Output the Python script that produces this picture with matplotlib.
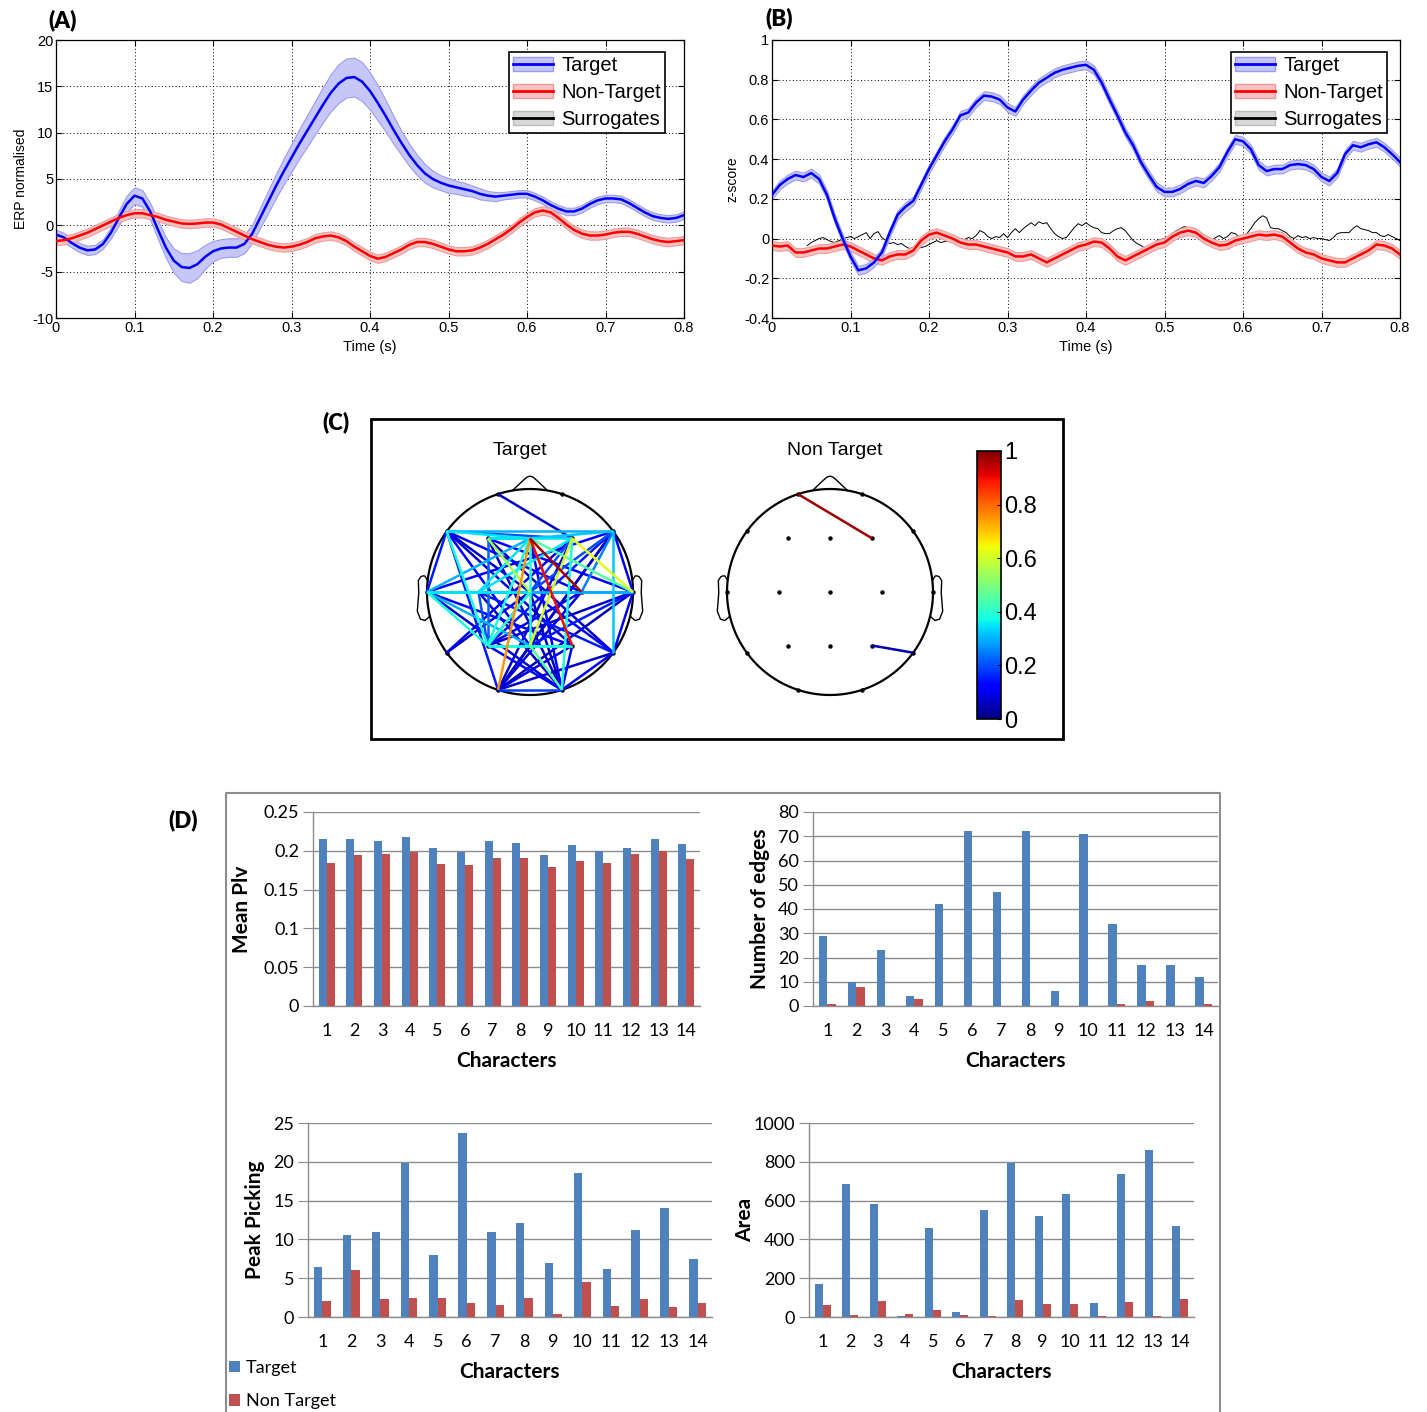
import numpy as np
import matplotlib
matplotlib.use("Agg")
import matplotlib.pyplot as plt
from matplotlib.patches import Patch, Rectangle
from matplotlib.lines import Line2D
from matplotlib.collections import LineCollection
from matplotlib.cm import ScalarMappable
from matplotlib.colors import Normalize

# ---------------- (A) normalised ERP, 0-0.8 s in 10 ms steps ----------------
erp_target = [-1.0, -1.3, -1.9, -2.4, -2.7, -2.6, -2.0, -0.8, 0.8, 2.3,
              3.2, 2.9, 1.5, -0.5, -2.4, -3.8, -4.5, -4.6, -4.2, -3.4,
              -2.8, -2.5, -2.4, -2.4, -2.0, -0.9, 0.8, 2.5, 4.2, 5.8,
              7.3, 8.8, 10.2, 11.6, 13.0, 14.3, 15.3, 15.9, 16.0, 15.5,
              14.5, 13.2, 11.8, 10.3, 8.9, 7.6, 6.5, 5.6, 5.0, 4.6,
              4.3, 4.1, 3.9, 3.7, 3.4, 3.2, 3.1, 3.2, 3.3, 3.4,
              3.4, 3.1, 2.7, 2.2, 1.8, 1.5, 1.5, 1.8, 2.3, 2.7,
              2.9, 2.9, 2.8, 2.4, 1.9, 1.4, 1.0, 0.8, 0.7, 0.8,
              1.1]
erp_target_sem = [0.5, 0.5, 0.5, 0.5, 0.5, 0.5, 0.5, 0.6, 0.8, 0.9,
                  0.9, 0.9, 0.9, 1.0, 1.1, 1.3, 1.5, 1.6, 1.5, 1.3,
                  1.1, 1.0, 1.0, 1.0, 1.0, 1.0, 1.1, 1.2, 1.3, 1.4,
                  1.5, 1.6, 1.7, 1.8, 1.9, 2.0, 2.1, 2.1, 2.1, 2.1,
                  2.0, 1.9, 1.7, 1.5, 1.3, 1.2, 1.1, 1.0, 0.9, 0.8,
                  0.8, 0.7, 0.7, 0.6, 0.6, 0.5, 0.5, 0.4, 0.4, 0.4,
                  0.4, 0.4, 0.4, 0.4, 0.4, 0.4, 0.4, 0.4, 0.4, 0.4,
                  0.4, 0.4, 0.4, 0.4, 0.4, 0.4, 0.4, 0.4, 0.4, 0.4,
                  0.4]
erp_nontarget = [-1.7, -1.6, -1.4, -1.1, -0.8, -0.4, 0.0, 0.4, 0.8, 1.1,
                 1.3, 1.3, 1.1, 0.9, 0.6, 0.4, 0.2, 0.15, 0.2, 0.3,
                 0.3, 0.1, -0.3, -0.7, -1.1, -1.5, -1.8, -2.1, -2.3, -2.4,
                 -2.3, -2.1, -1.8, -1.4, -1.2, -1.1, -1.3, -1.7, -2.3, -2.8,
                 -3.3, -3.6, -3.4, -3.0, -2.6, -2.1, -1.8, -1.8, -2.0, -2.3,
                 -2.6, -2.8, -2.8, -2.7, -2.4, -2.0, -1.5, -1.0, -0.4, 0.3,
                 0.9, 1.4, 1.6, 1.4, 0.8, 0.1, -0.5, -0.9, -1.1, -1.1,
                 -1.0, -0.8, -0.7, -0.7, -0.9, -1.2, -1.5, -1.7, -1.8, -1.7,
                 -1.6]
erp_nontarget_sem = 0.45

# ---------------- (B) PLV z-score ----------------
z_target = [0.22, 0.27, 0.30, 0.32, 0.31, 0.33, 0.30, 0.22, 0.10, 0.0,
            -0.09, -0.16, -0.15, -0.12, -0.07, 0.03, 0.12, 0.16, 0.19, 0.27,
            0.35, 0.42, 0.49, 0.55, 0.62, 0.635, 0.685, 0.72, 0.715, 0.70,
            0.66, 0.64, 0.70, 0.745, 0.785, 0.81, 0.835, 0.85, 0.86, 0.87,
            0.875, 0.85, 0.785, 0.70, 0.62, 0.535, 0.47, 0.385, 0.32, 0.26,
            0.235, 0.235, 0.25, 0.275, 0.29, 0.28, 0.315, 0.36, 0.435, 0.50,
            0.49, 0.45, 0.37, 0.34, 0.35, 0.35, 0.37, 0.375, 0.37, 0.35,
            0.31, 0.29, 0.33, 0.425, 0.47, 0.46, 0.475, 0.485, 0.46, 0.425,
            0.385]
z_nontarget = [-0.035, -0.04, -0.035, -0.07, -0.07, -0.06, -0.05, -0.05, -0.04, -0.03,
               -0.04, -0.06, -0.08, -0.10, -0.11, -0.09, -0.08, -0.08, -0.06, -0.01,
               0.02, 0.03, 0.015, 0.0, -0.02, -0.03, -0.03, -0.04, -0.05, -0.06,
               -0.07, -0.09, -0.09, -0.08, -0.10, -0.12, -0.10, -0.08, -0.06, -0.04,
               -0.03, -0.015, -0.02, -0.05, -0.09, -0.11, -0.09, -0.07, -0.05, -0.03,
               -0.02, 0.01, 0.03, 0.04, 0.03, 0.0, -0.02, -0.035, -0.03, -0.01,
               0.0, 0.01, 0.02, 0.015, 0.02, 0.01, -0.02, -0.05, -0.07, -0.08,
               -0.10, -0.11, -0.12, -0.12, -0.10, -0.08, -0.06, -0.03, -0.035, -0.05,
               -0.08]
z_sem = 0.022
# surrogate PLV, 5 ms steps starting at 45 ms
z_surrogate = [-0.035, -0.02, -0.01, 0.0, 0.005, -0.005, -0.015, -0.02, -0.01, -0.005,
               0.005, 0.01, 0.0, 0.01, 0.02, 0.03, 0.0, 0.025, 0.035, 0.005,
               -0.01, -0.025, -0.02, -0.03, -0.025, -0.04, -0.05, -0.045, -0.05, -0.045,
               -0.04, -0.03, -0.02, -0.01, -0.02, -0.015, -0.01, -0.02, -0.01, 0.0,
               -0.005, 0.005, 0.0, 0.015, 0.04, 0.03, 0.01, 0.0, 0.01, 0.005,
               0.025, 0.005, 0.03, 0.05, 0.03, 0.05, 0.065, 0.08, 0.065, 0.085,
               0.075, 0.08, 0.05, 0.025, 0.01, 0.0, 0.005, 0.03, 0.055, 0.075,
               0.065, 0.08, 0.065, 0.055, 0.05, 0.03, 0.025, 0.025, 0.04, 0.05,
               0.055, 0.04, 0.015, -0.01, -0.025, -0.035, -0.05, -0.06, -0.04, -0.01,
               -0.005, 0.0, 0.01, 0.025, 0.04, 0.05, 0.06, 0.055, 0.045, 0.03,
               0.005, -0.015, -0.02, -0.01, 0.005, 0.015, 0.0, 0.01, 0.03, 0.025,
               0.01, 0.01, 0.025, 0.05, 0.08, 0.1, 0.115, 0.105, 0.055, 0.05,
               0.05, 0.04, 0.03, 0.01, 0.0, 0.015, 0.005, 0.01, 0.0, 0.005,
               0.0, 0.0, -0.005, -0.01, 0.005, 0.025, 0.03, 0.03, 0.03, 0.05,
               0.065, 0.05, 0.045, 0.04, 0.03, 0.03, 0.015, 0.01, 0.02, 0.01,
               0.0, -0.01]
surrogate_start = 0.045
time_step = 0.01
surrogate_step = 0.005
time_ticks = [0, 0.1, 0.2, 0.3, 0.4, 0.5, 0.6, 0.7, 0.8]
time_ticklabels = ['0', '0.1', '0.2', '0.3', '0.4', '0.5', '0.6', '0.7', '0.8']
erp_ticks = [-10, -5, 0, 5, 10, 15, 20]
z_ticks = [-0.4, -0.2, 0, 0.2, 0.4, 0.6, 0.8, 1]
z_ticklabels = ['-0.4', '-0.2', '0', '0.2', '0.4', '0.6', '0.8', '1']
curve_names = ['Target', 'Non-Target', 'Surrogates']

# ---------------- (C) PLV networks on the 10-20 montage ----------------
electrodes = {
    'Fp1': (-0.31, 0.95), 'Fp2': (0.31, 0.95),
    'F7': (-0.81, 0.59), 'F3': (-0.41, 0.52), 'Fz': (0.0, 0.52), 'F4': (0.41, 0.52), 'F8': (0.81, 0.59),
    'T3': (-1.0, 0.0), 'C3': (-0.5, 0.0), 'Cz': (0.0, 0.0), 'C4': (0.5, 0.0), 'T4': (1.0, 0.0),
    'T5': (-0.81, -0.59), 'P3': (-0.41, -0.52), 'Pz': (0.0, -0.52), 'P4': (0.41, -0.52), 'T6': (0.81, -0.59),
    'O1': (-0.31, -0.95), 'O2': (0.31, -0.95),
}
target_edges = [
    ('Fp1', 'F4', 0.06), ('F7', 'F8', 0.30), ('F7', 'Fz', 0.35), ('F7', 'F4', 0.20),
    ('F7', 'T3', 0.15), ('F7', 'Cz', 0.06), ('F7', 'C4', 0.10), ('F7', 'P3', 0.38),
    ('F7', 'Pz', 0.12), ('F7', 'P4', 0.07), ('F7', 'O1', 0.15), ('F3', 'F4', 0.35),
    ('F3', 'Fz', 0.30), ('F3', 'Cz', 0.55), ('F3', 'P3', 0.22), ('F3', 'O2', 0.06),
    ('F3', 'T4', 0.12), ('F3', 'T6', 0.06), ('Fz', 'C4', 0.97), ('Fz', 'P4', 0.90),
    ('Fz', 'O1', 0.75), ('Fz', 'Pz', 0.40), ('Fz', 'P3', 0.38), ('Fz', 'T3', 0.30),
    ('Fz', 'T4', 0.45), ('Fz', 'C3', 0.35), ('Fz', 'O2', 0.12), ('Fz', 'F8', 0.32),
    ('F4', 'Pz', 0.60), ('F4', 'T4', 0.62), ('F4', 'C3', 0.35), ('F4', 'P3', 0.20),
    ('F4', 'O1', 0.07), ('F4', 'O2', 0.38), ('F4', 'T5', 0.12), ('F8', 'T4', 0.10),
    ('F8', 'C4', 0.25), ('F8', 'Cz', 0.20), ('F8', 'T6', 0.32), ('F8', 'P3', 0.15),
    ('F8', 'Pz', 0.06), ('F8', 'T3', 0.12), ('F8', 'O1', 0.05), ('T3', 'T4', 0.25),
    ('T3', 'C3', 0.35), ('T3', 'P3', 0.38), ('T3', 'Pz', 0.30), ('T3', 'P4', 0.12),
    ('T3', 'Cz', 0.35), ('T3', 'O2', 0.07), ('C3', 'Cz', 0.30), ('C3', 'P3', 0.20),
    ('C3', 'O2', 0.06), ('C3', 'T6', 0.15), ('Cz', 'P3', 0.40), ('Cz', 'O2', 0.05),
    ('Cz', 'T6', 0.12), ('Cz', 'T4', 0.30), ('C4', 'O1', 0.08), ('C4', 'P3', 0.10),
    ('T4', 'Pz', 0.15), ('T4', 'O1', 0.05), ('T4', 'T6', 0.10), ('T4', 'P3', 0.07),
    ('P3', 'Pz', 0.35), ('P3', 'P4', 0.38), ('P3', 'O2', 0.12), ('Pz', 'O1', 0.06),
    ('Pz', 'O2', 0.45), ('P4', 'O1', 0.08), ('T6', 'O1', 0.06), ('T6', 'O2', 0.12),
    ('O1', 'O2', 0.18), ('T5', 'Cz', 0.06), ('P4', 'O2', 0.10), ('Pz', 'P4', 0.35),
]
nontarget_edges = [('Fp1', 'F4', 0.97), ('P4', 'T6', 0.05)]
colorbar_ticks = [0, 0.2, 0.4, 0.6, 0.8, 1]
colorbar_ticklabels = ['0', '0.2', '0.4', '0.6', '0.8', '1']

# ---------------- (D) per-character measures ----------------
characters = [str(i) for i in range(1, 15)]
plv_target = [0.215, 0.215, 0.212, 0.218, 0.203, 0.198, 0.212, 0.210, 0.194, 0.208, 0.200, 0.204, 0.215, 0.209]
plv_nontarget = [0.184, 0.194, 0.196, 0.198, 0.183, 0.182, 0.191, 0.191, 0.179, 0.187, 0.184, 0.196, 0.200, 0.189]
edges_target = [29, 10, 23, 4, 42, 72, 47, 72, 6, 71, 34, 17, 17, 12]
edges_nontarget = [1, 8, 0, 3, 0, 0, 0, 0, 0, 0, 1, 2, 0, 1]
peak_target = [6.4, 10.6, 11.0, 19.8, 8.0, 23.7, 11.0, 12.1, 7.0, 18.5, 6.2, 11.2, 14.1, 7.5]
peak_nontarget = [2.0, 6.1, 2.3, 2.5, 2.5, 1.8, 1.6, 2.4, 0.4, 4.5, 1.4, 2.3, 1.3, 1.8]
area_target = [170, 683, 583, 5, 460, 26, 549, 792, 520, 633, 70, 738, 859, 470]
area_nontarget = [60, 12, 81, 17, 36, 12, 5, 86, 65, 65, 5, 76, 5, 91]
plv_ticks = [0, 0.05, 0.1, 0.15, 0.2, 0.25]
plv_ticklabels = ['0', '0.05', '0.1', '0.15', '0.2', '0.25']
edges_ticks = [0, 10, 20, 30, 40, 50, 60, 70, 80]
peak_ticks = [0, 5, 10, 15, 20, 25]
area_ticks = [0, 200, 400, 600, 800, 1000]

# ---------------- styling ----------------
ARIAL = ['Liberation Sans', 'DejaVu Sans']
NARROW = ['Liberation Sans Narrow', 'Liberation Sans', 'DejaVu Sans']
CALIBRI = ['Lato', 'DejaVu Sans']
BLUE_LINE, BLUE_BAND, BLUE_EDGE = '#0000ff', '#c6c6f8', '#9c9cee'
RED_LINE, RED_BAND, RED_EDGE = '#ff0000', '#f9c2c2', '#ef9a9a'
XL_BLUE, XL_RED, XL_GRID = '#4f81bd', '#c0504d', '#8c8c8c'

W, H = 1427, 1412
fig = plt.figure(figsize=(W / 100, H / 100), dpi=100)
fig.patch.set_facecolor('white')


def ax_px(left, top, right, bottom):
    return fig.add_axes([left / W, 1 - bottom / H, (right - left) / W, (bottom - top) / H])


def panel_label(x, y, s):
    fig.text(x / W, 1 - y / H, s, ha='center', va='center', fontsize=16,
             fontweight='heavy', family=CALIBRI)


def matlab_style(ax, yticks, yticklabels, ylim, ylabel):
    ax.set_xlim(0, 0.8)
    ax.set_ylim(*ylim)
    ax.set_xticks(time_ticks)
    ax.set_xticklabels(time_ticklabels)
    ax.set_yticks(yticks)
    ax.set_yticklabels(yticklabels)
    ax.set_axisbelow(True)
    ax.grid(True, color='black', linestyle=(0, (1, 2.5)), linewidth=0.7)
    ax.tick_params(direction='in', top=True, right=True, length=4, width=0.8,
                   labelsize=10.5, pad=2)
    for lab in ax.get_xticklabels() + ax.get_yticklabels():
        lab.set_family(ARIAL)
    for sp in ax.spines.values():
        sp.set_linewidth(0.9)
    ax.set_xlabel('Time (s)', fontsize=10.5, family=ARIAL, labelpad=4)
    ax.set_ylabel(ylabel, fontsize=10, family=ARIAL, labelpad=3)


def curve_legend(ax, anchor):
    handles = [
        (Patch(facecolor=BLUE_BAND, edgecolor=BLUE_EDGE), Line2D([], [], color=BLUE_LINE, lw=2)),
        (Patch(facecolor=RED_BAND, edgecolor=RED_EDGE), Line2D([], [], color=RED_LINE, lw=2)),
        (Patch(facecolor='#d8d8d8', edgecolor='#bcbcbc'), Line2D([], [], color='black', lw=2)),
    ]
    leg = ax.legend(handles, curve_names, loc='upper right', bbox_to_anchor=anchor,
                    prop={'family': NARROW, 'size': 14.5}, fancybox=False, framealpha=1,
                    borderpad=0.2, labelspacing=0.4, handlelength=2.0, handletextpad=0.4,
                    borderaxespad=0)
    leg.get_frame().set_edgecolor('black')
    leg.get_frame().set_linewidth(1.2)


def band(ax, t, mean, sem, face, edge, line):
    mean = np.asarray(mean, dtype=float)
    sem = np.asarray(sem, dtype=float)
    ax.fill_between(t, mean - sem, mean + sem, facecolor=face, edgecolor=edge, linewidth=0.8, zorder=2)
    ax.plot(t, mean, color=line, lw=1.8, zorder=3)


# ---------------- (A) ----------------
panel_label(63, 20, '(A)')
axA = ax_px(56, 40, 684, 318)
tA = np.arange(len(erp_target)) * time_step
band(axA, tA, erp_target, erp_target_sem, BLUE_BAND, BLUE_EDGE, BLUE_LINE)
band(axA, tA, erp_nontarget, erp_nontarget_sem, RED_BAND, RED_EDGE, RED_LINE)
matlab_style(axA, erp_ticks, [str(v) for v in erp_ticks], (-10, 20), 'ERP normalised')
curve_legend(axA, ((665 - 56) / 628, (318 - 52) / 278))

# ---------------- (B) ----------------
panel_label(779, 18, '(B)')
axB = ax_px(772, 40, 1400, 318)
tB = np.arange(len(z_target)) * time_step
tS = surrogate_start + np.arange(len(z_surrogate)) * surrogate_step
axB.plot(tS, z_surrogate, color='black', lw=0.7, zorder=2)
band(axB, tB, z_nontarget, z_sem, RED_BAND, RED_EDGE, RED_LINE)
band(axB, tB, z_target, z_sem, BLUE_BAND, BLUE_EDGE, BLUE_LINE)
matlab_style(axB, z_ticks, z_ticklabels, (-0.4, 1), 'z-score')
curve_legend(axB, ((1387 - 772) / 628, (318 - 52) / 278))

# ---------------- (C) ----------------
panel_label(336, 422, '(C)')
fig.add_artist(Rectangle((371 / W, 1 - 739 / H), (1063 - 371) / W, (739 - 419) / H,
                         transform=fig.transFigure, fill=False, edgecolor='black', lw=2))

nose_x = [-0.17, -0.07, -0.03, 0.0, 0.03, 0.07, 0.17]
nose_y = [0.985, 1.08, 1.115, 1.125, 1.115, 1.08, 0.985]
ear_x = np.array([0.994, 1.02, 1.036, 1.06, 1.084, 1.08, 1.094, 1.064, 1.02, 0.978])
ear_y = np.array([0.111, 0.155, 0.157, 0.149, 0.111, -0.011, -0.186, -0.263, -0.277, -0.240])
jet_norm = Normalize(0, 1)


def draw_head(cx, cy, edges, title, title_x):
    half, r = 135, 103
    ax = ax_px(cx - half, cy - half, cx + half, cy + half)
    lim = half / r
    ax.set_xlim(-lim, lim)
    ax.set_ylim(-lim, lim)
    ax.axis('off')
    th = np.linspace(0, 2 * np.pi, 400)
    ax.plot(np.cos(th), np.sin(th), color='black', lw=1.6)
    ax.plot(nose_x, nose_y, color='black', lw=1.0)
    ax.plot(ear_x, ear_y, color='black', lw=1.0)
    ax.plot(-ear_x, ear_y, color='black', lw=1.0)
    ordered = sorted(edges, key=lambda e: e[2])
    segs = [[electrodes[a], electrodes[b]] for a, b, _ in ordered]
    vals = [v for _, _, v in ordered]
    lc = LineCollection(segs, cmap='jet', norm=jet_norm, linewidths=1.8, zorder=3)
    lc.set_array(np.array(vals))
    ax.add_collection(lc)
    xs = [p[0] for p in electrodes.values()]
    ys = [p[1] for p in electrodes.values()]
    ax.plot(xs, ys, 'o', color='black', markersize=2.2, zorder=2)
    fig.text(title_x / W, 1 - 451 / H, title, ha='center', va='center', fontsize=14, family=ARIAL)


draw_head(530, 592, target_edges, 'Target', 520)
draw_head(830, 592, nontarget_edges, 'Non Target', 835)

cax = ax_px(977, 451, 1001, 719)
cb = fig.colorbar(ScalarMappable(norm=jet_norm, cmap='jet'), cax=cax, ticks=colorbar_ticks)
cb.set_ticklabels(colorbar_ticklabels)
cb.ax.tick_params(labelsize=17, length=3, direction='in', pad=2)
for lab in cb.ax.get_yticklabels():
    lab.set_family(ARIAL)
cb.outline.set_linewidth(1.2)

# ---------------- (D) ----------------
panel_label(183, 820, '(D)')
dx0, dx1, dy0 = 226 / W, 1220 / W, 1 - 793 / H
fig.add_artist(Line2D([dx0, dx0, dx1, dx1], [0, dy0, dy0, 0], transform=fig.transFigure,
                      color=XL_GRID, lw=1.5))


def bar_panel(box, tgt, non, ticks, ticklabels, ylabel, ylab_x):
    ax = ax_px(*box)
    x = np.arange(1, len(characters) + 1)
    w = 0.29
    ax.bar(x - w / 2, tgt, w, color=XL_BLUE, zorder=3)
    ax.bar(x + w / 2, non, w, color=XL_RED, zorder=3)
    ax.set_xlim(0.5, len(characters) + 0.5)
    ax.set_ylim(ticks[0], ticks[-1])
    ax.set_yticks(ticks)
    ax.set_yticklabels(ticklabels)
    ax.set_xticks(x)
    ax.set_xticklabels(characters)
    ax.yaxis.grid(True, color=XL_GRID, lw=1.0, zorder=0)
    ax.set_axisbelow(True)
    for s in ('top', 'right'):
        ax.spines[s].set_visible(False)
    for s in ('left', 'bottom'):
        ax.spines[s].set_color(XL_GRID)
        ax.spines[s].set_linewidth(1.0)
    ax.tick_params(axis='y', length=7, color=XL_GRID, direction='out', labelsize=13, pad=3)
    ax.tick_params(axis='x', length=0, labelsize=13, pad=12)
    for lab in ax.get_xticklabels() + ax.get_yticklabels():
        lab.set_family(CALIBRI)
    ax.set_xlabel('Characters', fontsize=15, fontweight='bold', family=CALIBRI)
    ax.xaxis.set_label_coords(0.5, -0.232)
    ax.set_ylabel(ylabel, fontsize=15, fontweight='bold', family=CALIBRI)
    ax.yaxis.set_label_coords(ylab_x, 0.5)
    return ax


bar_panel((313, 812, 700, 1006), plv_target, plv_nontarget, plv_ticks, plv_ticklabels,
          'Mean Plv', (252 - 313) / 387)
bar_panel((813, 812, 1218, 1006), edges_target, edges_nontarget, edges_ticks,
          [str(v) for v in edges_ticks], 'Number of edges', (770 - 813) / 405)
bar_panel((308, 1123, 712, 1317), peak_target, peak_nontarget, peak_ticks,
          [str(v) for v in peak_ticks], 'Peak Picking', (265 - 308) / 404)
bar_panel((809, 1123, 1194, 1317), area_target, area_nontarget, area_ticks,
          [str(v) for v in area_ticks], 'Area', (755 - 809) / 385)

fig.legend([Patch(facecolor=XL_BLUE), Patch(facecolor=XL_RED)], ['Target', 'Non Target'],
           loc='upper left', bbox_to_anchor=(229 / W, 1 - 1360 / H), frameon=False,
           prop={'family': CALIBRI, 'size': 13}, handlelength=0.6, handleheight=0.6,
           handletextpad=0.35, labelspacing=0.95, borderaxespad=0, borderpad=0)

fig.savefig('out.png', dpi=100, facecolor='white')
